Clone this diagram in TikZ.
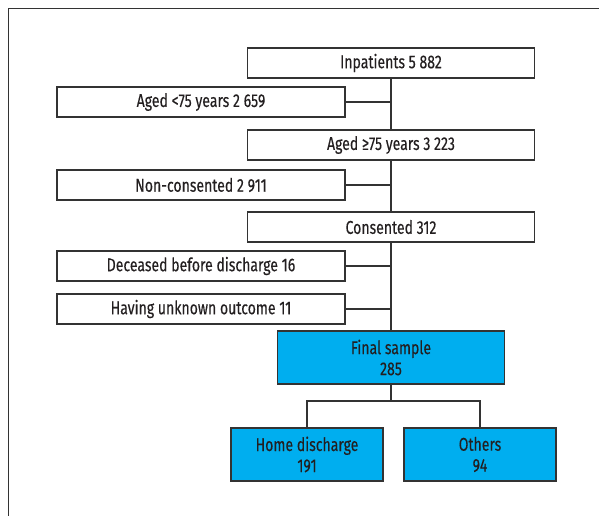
\documentclass[tikz,border=0pt]{standalone}
\usepackage{fontspec}
\setmainfont{Fira Sans}[FakeStretch=0.76, FakeBold=0.25]
\usepackage{tikz}
\usepackage{xcolor}
\definecolor{boxline}{HTML}{333333}
\definecolor{sampleblue}{HTML}{00AEEF}
\definecolor{textgray}{HTML}{231F20}

\begin{document}
\begin{tikzpicture}[x=1pt, y=-1pt,
    flow/.style={draw=boxline, line width=1.2pt, fill=white, text=textgray,
        inner sep=0pt, minimum height=30pt,
        font=\fontsize{18.5}{21}\selectfont},
    widebox/.style={flow, minimum width=287pt},
    sidebox/.style={flow, minimum width=288pt},
    sample/.style={flow, fill=sampleblue, minimum height=53pt, align=center},
    link/.style={draw=boxline, line width=1.2pt}]
    \useasboundingbox (0,0) rectangle (599,516);
    \draw[boxline, line width=1pt] (8,516) -- (8,9) -- (599,9);

    \node[widebox] (inp) at (391,63) {Inpatients 5 882};
    \node[sidebox] (young) at (201,102) {Aged <75 years 2 659};
    \node[widebox] (old) at (391,145) {Aged ≥75 years 3 223};
    \node[sidebox] (refused) at (201,185) {Non-consented 2 911};
    \node[widebox] (cons) at (391,227) {Consented 312};
    \node[sidebox] (dead) at (201,266) {Deceased before discharge 16};
    \node[sidebox] (unknown) at (201,309) {Having unknown outcome 11};
    \node[sample, minimum width=227pt] (final) at (391,357.5) {Final sample\\285};
    \node[sample, minimum width=152pt] (home) at (307,454.5) {Home discharge\\191};
    \node[sample, minimum width=152pt] (others) at (480,454.5) {Others\\94};
    \coordinate (split) at (391,401);

    \draw[link] (inp) -- (old);
    \draw[link] (old) -- (cons);
    \draw[link] (cons) -- (final);
    \draw[link] (young.east) -- (young.east -| inp.south);
    \draw[link] (refused.east) -- (refused.east -| old.south);
    \draw[link] (dead.east) -- (dead.east -| cons.south);
    \draw[link] (unknown.east) -- (unknown.east -| cons.south);
    \draw[link] (final.south) -- (split);
    \draw[link] (home.north) |- (split) -| (others.north);
\end{tikzpicture}
\end{document}
